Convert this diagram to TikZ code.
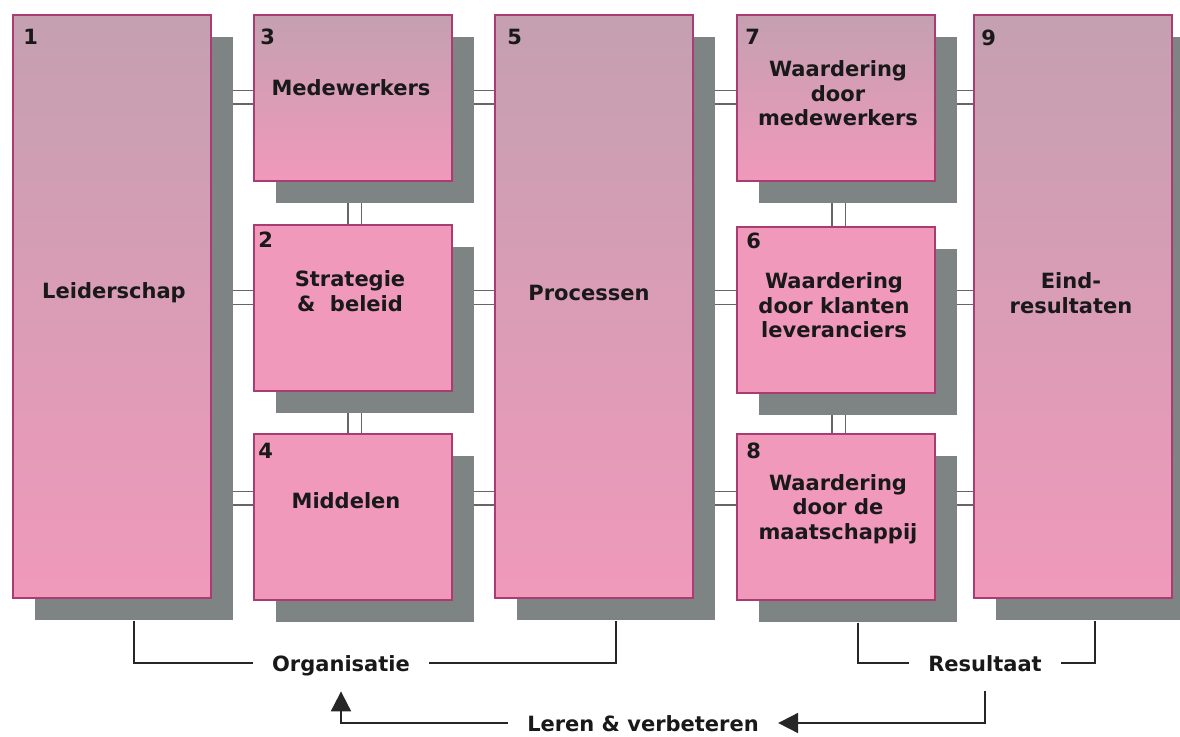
\documentclass[tikz,border=0pt]{standalone}
\usepackage{fontspec}
\setsansfont{DejaVu Sans}
\usetikzlibrary{arrows.meta}
\usetikzlibrary{shadows}
\usetikzlibrary{backgrounds}
\definecolor{mauve}{RGB}{196,160,176}
\definecolor{roze}{RGB}{240,153,187}
\definecolor{rand}{RGB}{170,60,115}
\definecolor{schaduw}{RGB}{126,131,132}
\tikzset{
	every path/.style={thick},
	align=center,
	kader/.style={
		draw=rand,
		line width=1.6pt,
		rectangle,
		anchor=north west,
		inner sep=0pt,
		minimum width=198pt,
		drop shadow={shadow xshift=22pt,shadow yshift=-22pt,fill=schaduw,opacity=1},
	},
	hoog/.style={
		kader,
		minimum height=583pt,
		top color=mauve,
		bottom color=roze,
	},
	laag/.style={
		kader,
		minimum height=166pt,
		top color=mauve,
		bottom color=roze,
	},
	vlak/.style={
		kader,
		minimum height=166pt,
		fill=roze,
	},
	tekst/.style={
		font=\fontsize{21}{24.5}\selectfont\sffamily\bfseries,
		text=black!90,
		inner sep=0pt,
	},
	nummer/.style={tekst, anchor=north west},
	onder/.style={
		tekst,
		text height=16pt,
		text depth=0pt,
		inner xsep=19pt,
		inner ysep=14pt,
	},
	dubbel/.style={draw=black!60, line width=1.2pt, double=white, double distance=12.6pt},
	haak/.style={draw=black!85, line width=2pt},
	pijl/.style={haak, -{Triangle[width=20pt,length=20pt]}},
}

\begin{document}
\begin{tikzpicture}[x=1pt,y=-1pt]
	\useasboundingbox (0,0) rectangle (1180,736);

	% organisatie
	\node[hoog] (b1) at (12,14) {};
	\node[laag] (b3) at (253,14) {};
	\node[vlak] (b2) at (253,224) {};
	\node[vlak] (b4) at (253,433) {};
	\node[hoog] (b5) at (494,14) {};
	% resultaat
	\node[laag] (b7) at (736,14) {};
	\node[vlak] (b6) at (736,226) {};
	\node[vlak] (b8) at (736,433) {};
	\node[hoog] (b9) at (973,14) {};

	\node[nummer] at ([shift={(11,15)}]b1.north west) {1};
	\node[nummer] at ([shift={(5,8)}]b2.north west) {2};
	\node[nummer] at ([shift={(7,15)}]b3.north west) {3};
	\node[nummer] at ([shift={(5,10)}]b4.north west) {4};
	\node[nummer] at ([shift={(13,15)}]b5.north west) {5};
	\node[nummer] at ([shift={(10,7)}]b6.north west) {6};
	\node[nummer] at ([shift={(9,15)}]b7.north west) {7};
	\node[nummer] at ([shift={(10,10)}]b8.north west) {8};
	\node[nummer] at ([shift={(8,16)}]b9.north west) {9};

	\node[tekst] (t1) at (114,292.5) {Leiderschap};
	\node[tekst] (t3) at (351,88) {Medewerkers};
	\node[tekst] (t2) at (350,291) {Strategie\\\& \ beleid};
	\node[tekst] (t4) at (346,501) {Middelen};
	\node[tekst] (t5) at (589,292.5) {Processen};
	\node[tekst] (t7) at (838,93.5) {Waardering\\door\\medewerkers};
	\node[tekst] (t6) at (834,305.5) {Waardering\\door klanten\\leveranciers};
	\node[tekst] (t8) at (838,509) {Waardering\\door de\\maatschappij};
	\node[tekst] (t9) at (1071,293) {Eind-\\resultaten};

	\node[onder, inner ysep=20pt] (org) at (341,663) {Organisatie};
	\node[onder, inner ysep=20pt] (res) at (985,663) {Resultaat};
	\node[onder] (leren) at (643,723) {Leren \& verbeteren};

	\draw[haak] ([shift={(22,22)}]b1.south) |- (org.west);
	\draw[haak] (org.east) -| ([shift={(22,22)}]b5.south);
	\draw[haak] ([shift={(22,22)}]b8.south) |- (res.west);
	\draw[haak] (res.east) -| ([shift={(22,22)}]b9.south);
	\draw[pijl] (res.south) |- (leren.east);
	\draw[pijl] (leren.west) -| (org.south);

	\begin{scope}[on background layer]
		\draw[dubbel] (b1 |- 0,97) -- (b9 |- 0,97);
		\draw[dubbel] (b1 |- 0,297.5) -- (b9 |- 0,297.5);
		\draw[dubbel] (b1 |- 0,498) -- (b9 |- 0,498);
		\draw[dubbel] ([xshift=2pt]b3.center) -- ([xshift=2pt]b4.center);
		\draw[dubbel] ([xshift=3pt]b7.center) -- ([xshift=3pt]b8.center);
	\end{scope}
\end{tikzpicture}
\end{document}
